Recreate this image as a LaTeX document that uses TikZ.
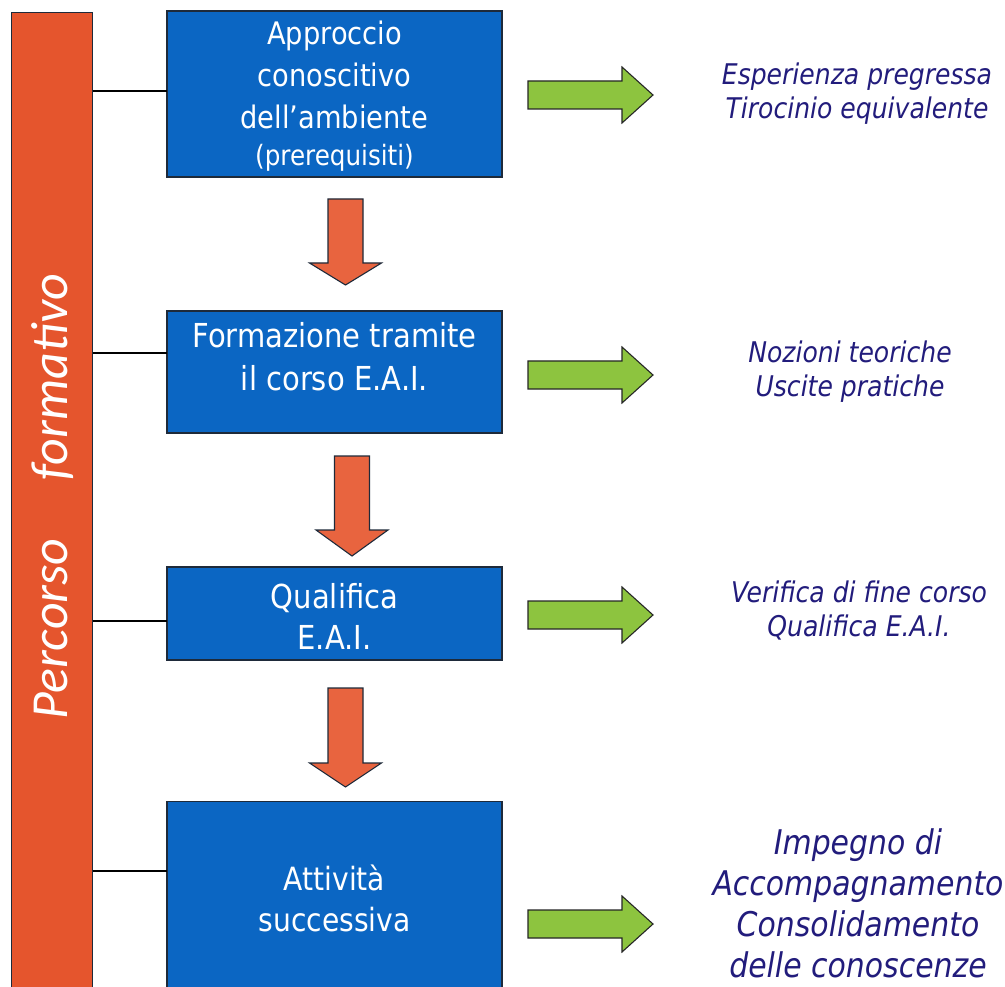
\documentclass[tikz,border=0pt]{standalone}
\usepackage{fontspec}
\setmainfont{DejaVu Sans}
\newfontfamily\boxfont[FakeStretch=0.88]{DejaVu Sans}
\newfontfamily\barfont{Carlito}
\definecolor{barorange}{HTML}{E5552D}
\definecolor{boxblue}{HTML}{0B66C3}
\definecolor{arrorange}{HTML}{E8643F}
\definecolor{arrgreen}{HTML}{8DC43F}
\definecolor{navy}{HTML}{221C7C}
\definecolor{edgedark}{HTML}{1E2A3A}
\newcommand{\dblock}[4]{\draw[oarr] (#1-17.5,#2) -- (#1+17.5,#2) -- (#1+17.5,#3) -- (#1+36,#3) -- (#1,#4) -- (#1-36,#3) -- (#1-17.5,#3) -- cycle;}
\begin{document}
\begin{tikzpicture}[x=1pt,y=-1pt,
  bluebox/.style={draw=edgedark,line width=1.2pt,fill=boxblue,minimum width=335pt,inner sep=0pt},
  boxtxt/.style={text=white,align=center,inner sep=0pt},
  rtxt/.style={text=navy,align=center,inner sep=0pt,font=\boxfont\itshape\fontsize{28.5}{34}\selectfont},
  link/.style={draw=black,line width=1.1pt},
  oarr/.style={draw=edgedark,line width=1.1pt,fill=arrorange,line join=miter},
  garrowstyle/.style={draw=black!85,line width=1.1pt,fill=arrgreen,line join=miter},
  garrow/.pic={\draw[garrowstyle] (0,-14) -- (94,-14) -- (94,-28) -- (125,0) -- (94,28) -- (94,14) -- (0,14) -- cycle;}
]
\useasboundingbox (0,0) rectangle (1005,987);
\clip (0,0) rectangle (1005,987);
\fill[white] (0,0) rectangle (1005,987);

% orange bar
\node[draw=edgedark,line width=1pt,fill=barorange,minimum width=81pt,minimum height=990pt,inner sep=0pt,anchor=north] (bar) at (51.5,12) {};
\node[rotate=90,text=white,inner sep=0pt,font=\barfont\itshape\fontsize{52}{60}\selectfont] (pf) at (53,497) {Percorso\hspace{58pt}formativo};

% blue boxes
\node[bluebox,minimum height=166pt] (b1) at (334.5,94) {};
\node[bluebox,minimum height=122pt] (b2) at (334.5,372) {};
\node[bluebox,minimum height=93pt] (b3) at (334.5,613.5) {};
\node[bluebox,minimum height=200pt,anchor=north] (b4) at (334.5,801) {};

\node[boxtxt,font=\boxfont\fontsize{31}{42}\selectfont] (t1) at (334.5,75) {Approccio\\conoscitivo\\dell’ambiente};
\node[boxtxt,font=\boxfont\fontsize{28}{34}\selectfont] (t1b) at (334.5,158) {(prerequisiti)};
\node[boxtxt,font=\boxfont\fontsize{33}{43}\selectfont] (t2) at (334.5,357) {Formazione tramite\\il corso E.A.I.};
\node[boxtxt,font=\boxfont\fontsize{33}{41}\selectfont] (t3) at (334.5,616) {Qualifica\\E.A.I.};
\node[boxtxt,font=\boxfont\fontsize{32}{41}\selectfont] (t4) at (334.5,898) {Attività\\successiva};

% links from bar
\coordinate (c1) at (167,91);
\coordinate (c2) at (167,353);
\coordinate (c3) at (167,621);
\coordinate (c4) at (167,871);
\draw[link] (bar.east |- c1) -- (c1);
\draw[link] (bar.east |- c2) -- (c2);
\draw[link] (bar.east |- c3) -- (c3);
\draw[link] (bar.east |- c4) -- (c4);

% orange down arrows
\dblock{345.5}{199}{263}{285}
\dblock{352}{456}{530}{556}
\dblock{345.5}{688}{763}{787}

% green arrows
\pic at (528,95) {garrow};
\pic at (528,375) {garrow};
\pic at (528,615) {garrow};
\pic at (528,924) {garrow};

% right texts
\node[rtxt] (r1) at (857,94) {Esperienza pregressa\\Tirocinio equivalente};
\node[rtxt] (r2) at (850,372) {Nozioni teoriche\\Uscite pratiche};
\node[rtxt] (r3) at (859,611) {Verifica di fine corso\\Qualifica E.A.I.};
\node[rtxt,font=\boxfont\itshape\fontsize{34}{41}\selectfont] (r4) at (858,903) {Impegno di\\Accompagnamento\\Consolidamento\\delle conoscenze};
\end{tikzpicture}
\end{document}
